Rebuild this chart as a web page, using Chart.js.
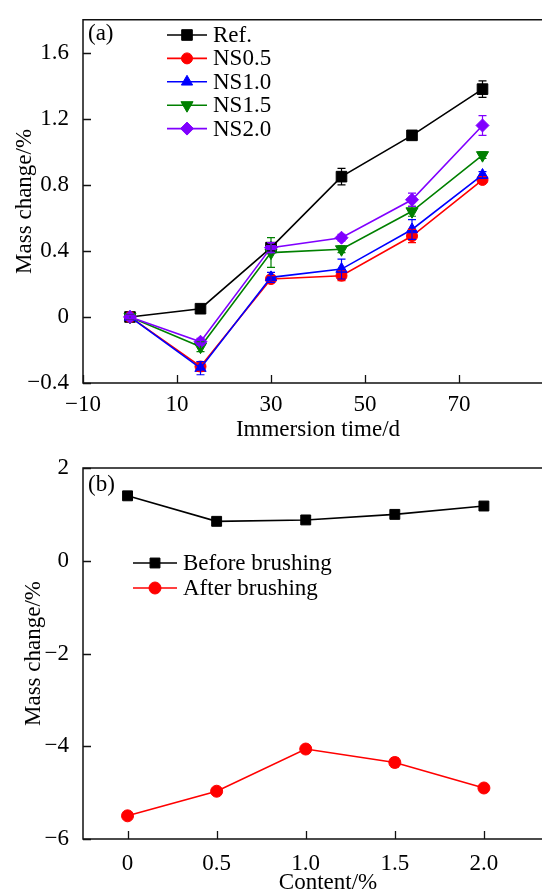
<!DOCTYPE html>
<html>
<head>
<meta charset="utf-8">
<script src="https://cdn.jsdelivr.net/npm/chart.js@4.4.0/dist/chart.umd.min.js"></script>
<style>
  html, body { margin: 0; padding: 0; background: #fff; overflow: hidden; width: 542px; height: 895px; }
  canvas { position: absolute; left: 0; }
  #chartA { top: 0; }
  #chartB { top: 440px; }
</style>
</head>
<body>
<canvas id="chartA" width="600" height="450"></canvas>
<canvas id="chartB" width="600" height="470"></canvas>
<script>
// (a) mass change vs immersion time
const days = [0, 15, 30, 45, 60, 75]
const refVals = [0, 0.05, 0.42, 0.85, 1.10, 1.38]
const ns05Vals = [0, -0.30, 0.23, 0.25, 0.49, 0.83]
const ns10Vals = [0, -0.31, 0.24, 0.29, 0.53, 0.86]
const ns15Vals = [0, -0.18, 0.39, 0.41, 0.64, 0.98]
const ns20Vals = [0, -0.15, 0.42, 0.48, 0.71, 1.16]
const refErr = [0.01, 0.02, 0.02, 0.05, 0.02, 0.05]
const ns05Err = [0.01, 0.03, 0.02, 0.03, 0.04, 0.02]
const ns10Err = [0.01, 0.04, 0.03, 0.06, 0.06, 0.02]
const ns15Err = [0.01, 0.03, 0.09, 0.02, 0.03, 0.02]
const ns20Err = [0.01, 0.02, 0.03, 0.02, 0.04, 0.06]
const xTicksA = [-10, 10, 30, 50, 70]
const yTicksA = [-0.4, 0, 0.4, 0.8, 1.2, 1.6]

// (b) mass change vs content
const contents = [0, 0.5, 1.0, 1.5, 2.0]
const beforeVals = [1.40, 0.85, 0.88, 1.00, 1.18]
const afterVals = [-5.50, -4.97, -4.06, -4.35, -4.90]
const beforeErr = [0.03, 0.03, 0.03, 0.03, 0.03]
const afterErr = [0.04, 0.04, 0.05, 0.1, 0.04]
const xTicksB = [0, 0.5, 1.0, 1.5, 2.0]
const yTicksB = [-6, -4, -2, 0, 2]

Chart.defaults.font.family = "'Liberation Serif', 'DejaVu Serif', serif"
Chart.defaults.font.size = 23
Chart.defaults.color = '#000'

const minus = ( s ) => s.replace( '-', '\u2212' )

const toPoints = ( xs, ys ) => xs.map( ( x, i ) => ( { x: x, y: ys[i] } ) )

function series( label, xs, ys, errs, color, style, radius, rotation, order ) {
  return {
    label: label,
    data: toPoints( xs, ys ),
    errs: errs,
    showLine: true,
    borderColor: color,
    backgroundColor: color,
    borderWidth: 1.6,
    pointStyle: style,
    pointRadius: radius,
    pointRotation: rotation,
    pointBorderWidth: 1,
    pointBorderColor: color,
    pointBackgroundColor: color,
    order: order,
  }
}

const framePlugin = {
  id: 'frame',
  afterDraw( chart ) {
    const { ctx, chartArea: a, scales } = chart
    ctx.save()
    ctx.strokeStyle = '#111'
    ctx.lineWidth = 1.5
    ctx.beginPath()
    ctx.moveTo( a.right, a.top )
    ctx.lineTo( a.left, a.top )
    ctx.lineTo( a.left, a.bottom )
    ctx.lineTo( a.right, a.bottom )
    ctx.stroke()
    ctx.lineWidth = 1.3
    ctx.beginPath()
    scales.x.ticks.forEach( ( t ) => {
      const px = Math.round( scales.x.getPixelForValue( t.value ) ) + 0.5
      ctx.moveTo( px, a.bottom )
      ctx.lineTo( px, a.bottom - 8 )
    } )
    scales.y.ticks.forEach( ( t ) => {
      const py = Math.round( scales.y.getPixelForValue( t.value ) ) + 0.5
      ctx.moveTo( a.left, py )
      ctx.lineTo( a.left + 8, py )
    } )
    ctx.stroke()
    ctx.restore()
  }
}

const errorBarPlugin = {
  id: 'errorBars',
  afterDatasetsDraw( chart ) {
    const { ctx, scales } = chart
    ctx.save()
    chart.data.datasets.forEach( ( ds, di ) => {
      if ( !ds.errs ) return
      const meta = chart.getDatasetMeta( di )
      ctx.strokeStyle = ds.borderColor
      ctx.lineWidth = 1.2
      ctx.beginPath()
      meta.data.forEach( ( pt, i ) => {
        const v = ds.data[i].y
        const top = scales.y.getPixelForValue( v + ds.errs[i] )
        const bot = scales.y.getPixelForValue( v - ds.errs[i] )
        ctx.moveTo( pt.x, top )
        ctx.lineTo( pt.x, bot )
        ctx.moveTo( pt.x - 4, top )
        ctx.lineTo( pt.x + 4, top )
        ctx.moveTo( pt.x - 4, bot )
        ctx.lineTo( pt.x + 4, bot )
      } )
      ctx.stroke()
    } )
    ctx.restore()
  }
}

const boxLegendPlugin = {
  id: 'boxLegend',
  afterDraw( chart, args, opts ) {
    const { ctx } = chart
    ctx.save()
    ctx.font = "23px 'Liberation Serif', serif"
    ctx.textBaseline = 'middle'
    ctx.fillStyle = '#000'
    ctx.fillText( opts.panel, opts.panelX, opts.panelY )
    chart.data.datasets.forEach( ( ds, i ) => {
      const y = opts.y + i * opts.dy
      ctx.strokeStyle = ds.borderColor
      ctx.fillStyle = ds.borderColor
      ctx.lineWidth = 1.6
      ctx.beginPath()
      ctx.moveTo( opts.x, y )
      ctx.lineTo( opts.x + opts.len, y )
      ctx.stroke()
      ctx.lineWidth = 1
      Chart.helpers.drawPoint( ctx, {
        pointStyle: ds.pointStyle,
        radius: ds.pointRadius,
        rotation: ds.pointRotation,
        borderWidth: 1,
      }, opts.x + opts.len / 2, y )
      ctx.fillStyle = '#000'
      ctx.fillText( ds.label, opts.x + opts.len + 6, y + 1 )
    } )
    ctx.restore()
  }
}

function makeOptions( cfg ) {
  return {
    responsive: false,
    animation: false,
    layout: { padding: { top: cfg.padTop, right: cfg.padRight, left: 0, bottom: 0 } },
    plugins: {
      legend: { display: false },
      tooltip: { enabled: false },
      boxLegend: cfg.legend,
    },
    scales: {
      x: {
        type: 'linear',
        min: cfg.xMin,
        max: cfg.xMax,
        grid: { display: false },
        border: { display: false },
        afterBuildTicks: ( s ) => { s.ticks = cfg.xTicks.map( ( v ) => ( { value: v } ) ) },
        afterFit: ( s ) => { s.height = cfg.xHeight },
        ticks: { padding: cfg.xPad, maxRotation: 0, autoSkip: false, callback: cfg.xFmt },
        title: { display: true, text: cfg.xTitle, padding: { top: 0, bottom: cfg.xTitlePad } },
      },
      y: {
        type: 'linear',
        min: cfg.yMin,
        max: cfg.yMax,
        grid: { display: false },
        border: { display: false },
        afterBuildTicks: ( s ) => { s.ticks = cfg.yTicks.map( ( v ) => ( { value: v } ) ) },
        afterFit: ( s ) => { s.width = 83 },
        ticks: { padding: 6, autoSkip: false, callback: cfg.yFmt },
        title: { display: true, text: 'Mass change/%', padding: { top: cfg.yTitlePad, bottom: 0 } },
      },
    },
  }
}

new Chart( document.getElementById( 'chartA' ).getContext( '2d' ), {
  type: 'scatter',
  data: {
    datasets: [
      series( 'Ref.', days, refVals, refErr, '#000000', 'rect', 7.5, 0, 5 ),
      series( 'NS0.5', days, ns05Vals, ns05Err, '#ff0000', 'circle', 5.5, 0, 4 ),
      series( 'NS1.0', days, ns10Vals, ns10Err, '#0000ff', 'triangle', 6.5, 0, 3 ),
      series( 'NS1.5', days, ns15Vals, ns15Err, '#008000', 'triangle', 7, 180, 2 ),
      series( 'NS2.0', days, ns20Vals, ns20Err, '#8000ff', 'rectRot', 6.5, 0, 1 ),
    ],
  },
  options: makeOptions( {
    padTop: 13, padRight: 47,
    xMin: -10, xMax: 90, xTicks: xTicksA, xHeight: 67, xPad: 0,
    xFmt: ( v ) => minus( String( v ) ),
    xTitle: 'Immersion time/d', xTitlePad: 6,
    yMin: -0.4, yMax: 1.8, yTicks: yTicksA, yTitlePad: 11,
    yFmt: ( v ) => ( v === 0 ? '0' : minus( v.toFixed( 1 ) ) ),
    legend: { x: 167, y: 35, dy: 23.4, len: 40, panel: '(a)', panelX: 88, panelY: 34 },
  } ),
  plugins: [framePlugin, errorBarPlugin, boxLegendPlugin],
} )

new Chart( document.getElementById( 'chartB' ).getContext( '2d' ), {
  type: 'scatter',
  data: {
    datasets: [
      series( 'Before brushing', contents, beforeVals, beforeErr, '#000000', 'rect', 7, 0, 2 ),
      series( 'After brushing', contents, afterVals, afterErr, '#ff0000', 'circle', 6, 0, 1 ),
    ],
  },
  options: makeOptions( {
    padTop: 28, padRight: 27,
    xMin: -0.25, xMax: 2.5, xTicks: xTicksB, xHeight: 71, xPad: 3,
    xFmt: ( v ) => ( v === 0 ? '0' : v.toFixed( 1 ) ),
    xTitle: 'Content/%', xTitlePad: 13,
    yMin: -6, yMax: 2, yTicks: yTicksB, yTitlePad: 20,
    yFmt: ( v ) => minus( String( v ) ),
    legend: { x: 133, y: 123, dy: 25, len: 44, panel: '(b)', panelX: 88, panelY: 45 },
  } ),
  plugins: [framePlugin, errorBarPlugin, boxLegendPlugin],
} )
</script>
</body>
</html>
